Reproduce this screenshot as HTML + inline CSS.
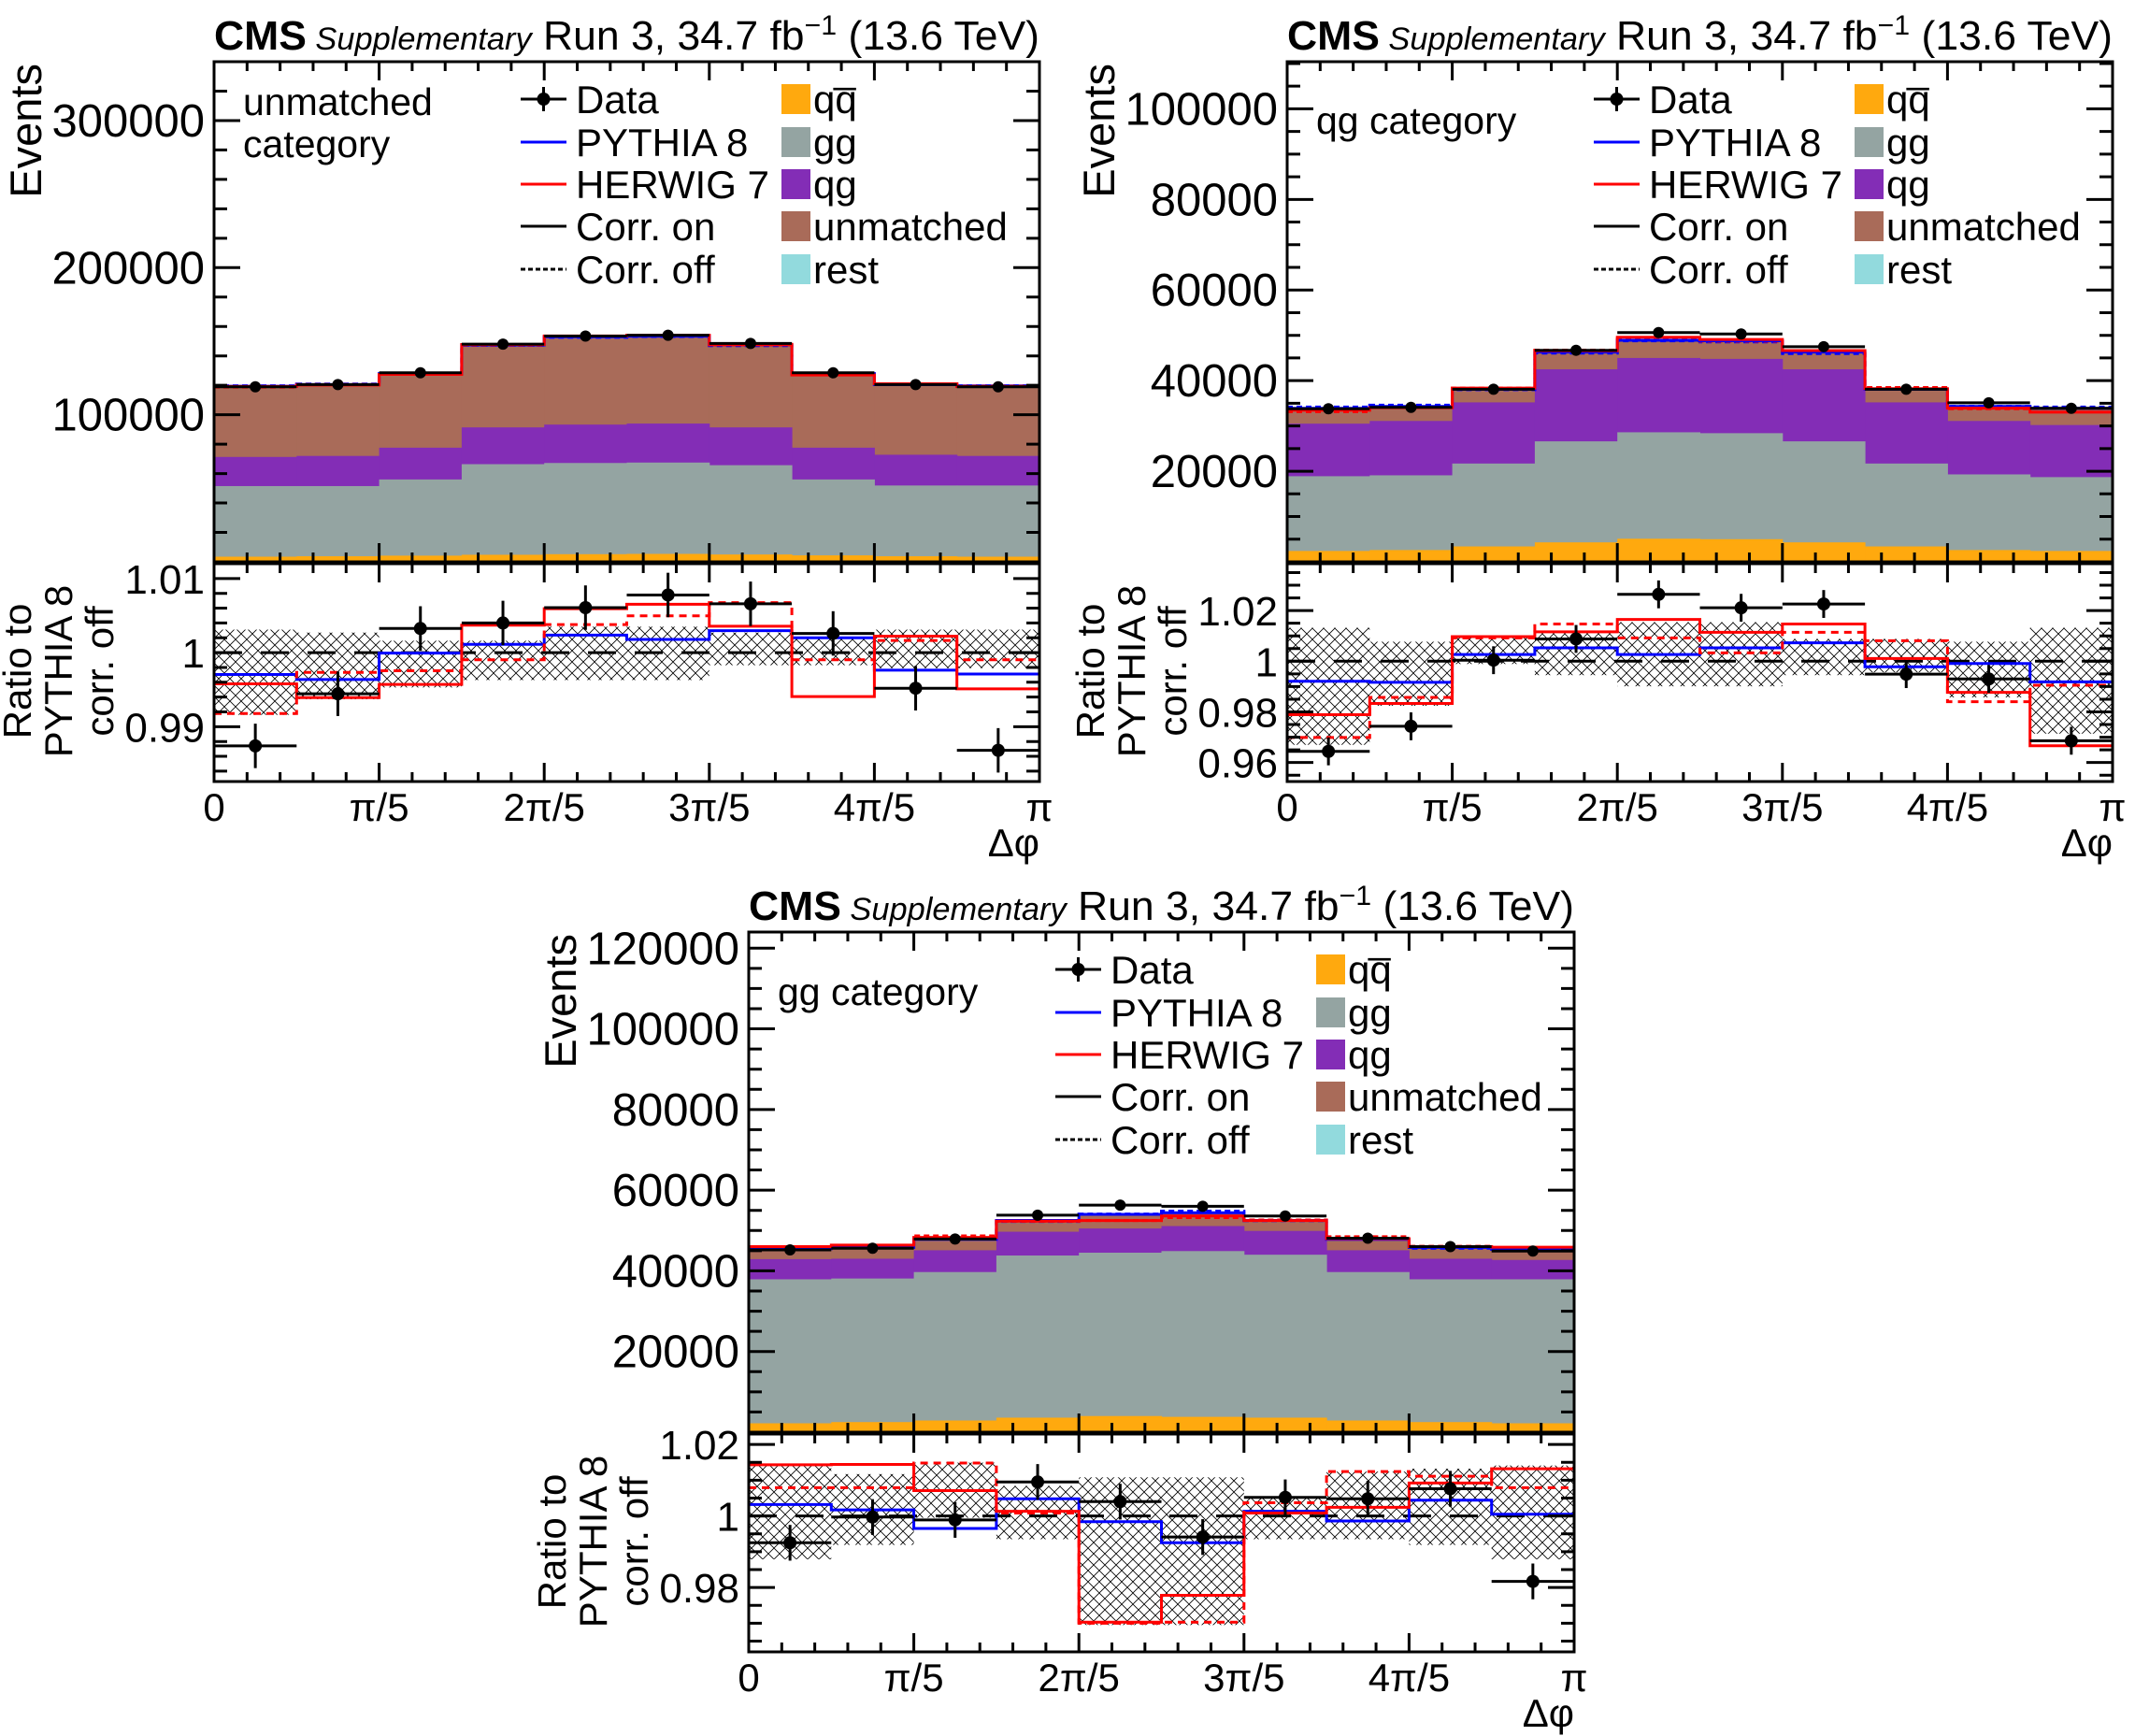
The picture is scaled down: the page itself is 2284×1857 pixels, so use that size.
<!DOCTYPE html>
<html><head><meta charset="utf-8"><style>
html,body{margin:0;padding:0;background:#fff;}
svg{display:block;font-family:"Liberation Sans",Arial,sans-serif;}
</style></head><body>
<svg id="fig" width="2284" height="1857" viewBox="0 0 2284 1857">
<defs>
<pattern id="hatch" width="12" height="12" patternUnits="userSpaceOnUse">
<path d="M0,0 L12,12 M12,0 L0,12" stroke="#000" stroke-width="0.8" fill="none"/>
</pattern>
</defs>
</svg>
<script>
// ---- shared ----
const binEdgesLabels = ["0","\u03c0/5","2\u03c0/5","3\u03c0/5","4\u03c0/5","\u03c0"];
const nBins = 10;
const stackNames = ["qqbar","gg","qg","unmatched"];
const stackColors = ["#ffa90e","#94a4a2","#832db6","#a96b59"];

// ---- panel 1: unmatched category (cumulative stack tops, thousands) ----
const p1_qqbar = [3.5,3.8,4.2,4.8,5.2,5.4,5.0,4.4,3.8,3.5];
const p1_gg    = [51.5,51.5,56,66.4,67.2,67.5,65.7,56,51.9,51.9];
const p1_qg    = [71.3,72,77.6,91.4,93.3,94,91.4,77.6,72.8,72];
const p1_unm   = [119.4,120.5,128,147.4,153,153.4,147.4,128,120.5,119.4];
const p1_data  = [119,120.5,128.5,148,153.5,154,148.5,128.5,120.5,119];
const p1_rPyOn = [0.99704,0.99637,0.99993,1.00111,1.00237,1.00178,1.00296,1.002,0.99763,0.99711];
const p1_rHwOn = [0.99578,0.99393,0.9957,1.0037,1.00593,1.00652,1.00356,0.99407,1.00222,0.99511];
const p1_rHwOff= [0.99178,0.99733,0.99756,0.99904,1.00378,1.00496,1.00674,0.99904,1.00163,0.99904];
const p1_rData = [0.98741,0.99444,1.00326,1.004,1.00607,1.00778,1.00659,1.00259,0.99519,0.98681];
const p1_rErr  = [0.003,0.003,0.003,0.003,0.003,0.003,0.003,0.003,0.003,0.003];
const p1_bandHi= [1.0031,1.0027,1.0016,1.0016,1.0035,1.0035,1.0027,1.002,1.0031,1.0031];
const p1_bandLo= [0.9916,0.9937,0.9953,0.9963,0.9963,0.9963,0.9983,0.9983,0.9979,0.9979];

// ---- panel 2: qg category ----
const p2_qqbar = [2.4,2.6,3.4,4.3,5.1,5.0,4.3,3.4,2.6,2.4];
const p2_gg    = [18.9,19.1,21.7,26.6,28.6,28.4,26.6,21.7,19.3,18.7];
const p2_qg    = [30.5,31.1,35.2,42.5,45,44.8,42.5,35.2,31.1,30.2];
const p2_unm   = [33.9,34.3,38.1,46.3,48.9,48.8,46.3,38.1,34.3,33.9];
const p2_data  = [33.8,34.1,38.1,46.7,50.6,50.3,47.5,38.1,35.1,33.9];
const p2_rPyOn = [0.99209,0.99165,1.00264,1.00527,1.00264,1.00527,1.00725,0.9978,0.99912,0.99187];
const p2_rHwOn = [0.9789,0.9833,1.0097,1.0116,1.0165,1.0114,1.0147,1.0011,0.9877,0.9666];
const p2_rHwOff= [0.9699,0.9857,1.0092,1.0147,1.0092,1.0033,1.0114,1.0081,0.984,0.9905];
const p2_rData = [0.9644,0.9743,1.0004,1.0088,1.0264,1.0211,1.0226,0.9949,0.993,0.9686];
const p2_rErr  = [0.0055,0.0055,0.0055,0.0055,0.0055,0.0055,0.0055,0.0055,0.0055,0.0055];
const p2_bandHi= [1.0132,1.0077,1.0099,1.011,1.0154,1.0154,1.0088,1.0088,1.0077,1.0132];
const p2_bandLo= [0.967,0.9824,0.9989,0.9945,0.9901,0.9901,0.9945,0.9956,0.9857,0.9714];

// ---- panel 3: gg category ----
const p3_qqbar = [2.2,2.5,2.9,3.6,4.0,3.8,3.6,2.9,2.5,2.2];
const p3_gg    = [37.9,38.1,39.7,43.8,44.5,44.9,44,39.7,37.9,37.9];
const p3_qg    = [42.9,43,45.1,49.7,50.5,51.1,49.9,45.1,43,42.7];
const p3_unm   = [45.5,45.8,47.8,52.5,54,54.4,52.5,47.8,45.8,45.3];
const p3_data  = [45.2,45.6,47.9,53.8,56.3,56,53.6,48.1,46,44.9];
const p3_rPyOn = [1.0032,1.0017,0.9965,1.0048,0.9984,0.9925,1.0013,0.9986,1.0044,1.0005];
const p3_rHwOn = [1.0143,1.0144,1.0071,1.0013,0.9703,0.9778,1.0008,1.0024,1.0092,1.0132];
const p3_rHwOff= [1.0079,1.0079,1.0148,1.0008,0.97,0.9703,1.0037,1.0124,1.0111,1.0079];
const p3_rData = [0.9925,0.9997,0.9989,1.0095,1.004,0.9941,1.0052,1.0048,1.0076,0.9817];
const p3_rErr  = [0.005,0.005,0.005,0.005,0.005,0.005,0.005,0.005,0.005,0.005];
const p3_bandHi= [1.0141,1.0117,1.0149,1.0084,1.0108,1.0108,1.0052,1.0124,1.0132,1.0141];
const p3_bandLo= [0.9879,0.9919,0.9995,0.9935,0.9695,0.9695,0.9935,0.9935,0.9919,0.9879];

const NS = "http://www.w3.org/2000/svg";
const svg = document.getElementById("fig");
function mk(tag, attrs, parent){
  const e = document.createElementNS(NS, tag);
  for (const k in attrs) e.setAttribute(k, attrs[k]);
  (parent||svg).appendChild(e);
  return e;
}
function stepPath(vals, xf, yf){
  let d = "";
  for (let i=0;i<vals.length;i++){
    const x0=xf(i), x1=xf(i+1), y=yf(vals[i]);
    d += (i===0?"M":"L")+x0+","+y+" L"+x1+","+y+" ";
  }
  return d;
}

function drawPanel(cfg){
  const W=883, L=cfg.x, T=cfg.y, UB=T+535, RT=T+537, RB=T+770;
  const g = mk("g",{});
  
  
  const xf = i => L + i*W/nBins;
  const yU = v => UB - v/cfg.ymax*(UB-T);
  const yR = v => RB - (v-cfg.rmin)/(cfg.rmax-cfg.rmin)*(RB-RT);

  const t = mk("text",{x:L, y:T-13, "font-size":44, textLength:W, lengthAdjust:"spacingAndGlyphs"}, g);
  
  
  t.innerHTML = '<tspan font-weight="bold">CMS</tspan><tspan font-style="italic" font-size="34"> Supplementary</tspan><tspan> Run 3, 34.7 fb</tspan><tspan font-size="30" dy="-16">\u22121</tspan><tspan dy="16"> (13.6 TeV)</tspan>';

  const layers=[cfg.qqbar,cfg.gg,cfg.qg,cfg.unm];
  for (let s=layers.length-1;s>=0;s--){
    for (let i=0;i<nBins;i++){
      const r = mk("rect",{x:xf(i), y:yU(layers[s][i]), width:W/nBins+0.5, height:UB-yU(layers[s][i]), fill:stackColors[s]}, g);
      
      
    }
  }
  const pyOn = cfg.unm;
  const pyOff = pyOn.map((v,i)=>v/cfg.rPyOn[i]);
  const hwOn = pyOff.map((v,i)=>v*cfg.rHwOn[i]);
  const hwOff = pyOff.map((v,i)=>v*cfg.rHwOff[i]);
  const lines=[[pyOff,"#0000ff","6,4","pythia-corr-off"],[hwOff,"#ff0000","6,4","herwig-corr-off"],[pyOn,"#0000ff","","pythia-corr-on"],[hwOn,"#ff0000","","herwig-corr-on"]];
  for (const [vals,col,da,nm] of lines){
    const p = mk("path",{d:stepPath(vals,xf,yU), fill:"none", stroke:col, "stroke-width":3, "stroke-dasharray":da}, g);
    
    
  }
  for (let i=0;i<nBins;i++){
    const cx=(xf(i)+xf(i+1))/2, cy=yU(cfg.data[i]);
    const h = mk("line",{x1:xf(i),x2:xf(i+1),y1:cy,y2:cy,stroke:"#000","stroke-width":3}, g);
    
    
    const c = mk("circle",{cx:cx,cy:cy,r:6,fill:"#000"}, g);
    
    
  }

  for (let i=0;i<nBins;i++){
    const r = mk("rect",{x:xf(i), y:yR(cfg.bandHi[i]), width:W/nBins, height:yR(cfg.bandLo[i])-yR(cfg.bandHi[i]), fill:"url(#hatch)"}, g);
    
    
  }
  const one = mk("line",{x1:L,x2:L+W,y1:yR(1),y2:yR(1),stroke:"#000","stroke-width":3,"stroke-dasharray":"30,20"}, g);
  
  
  const rl=[[cfg.rPyOn,"#0000ff","","ratio-pythia-on"],[cfg.rHwOff,"#ff0000","8,6","ratio-herwig-off"],[cfg.rHwOn,"#ff0000","","ratio-herwig-on"]];
  for (const [vals,col,da,nm] of rl){
    const p = mk("path",{d:stepPath(vals,xf,yR), fill:"none", stroke:col, "stroke-width":3, "stroke-dasharray":da}, g);
    
    
  }
  for (let i=0;i<nBins;i++){
    const cx=(xf(i)+xf(i+1))/2, cy=yR(cfg.rData[i]);
    const h = mk("line",{x1:xf(i),x2:xf(i+1),y1:cy,y2:cy,stroke:"#000","stroke-width":3}, g);
    
    
    const v = mk("line",{x1:cx,x2:cx,y1:yR(cfg.rData[i]+cfg.rErr[i]),y2:yR(cfg.rData[i]-cfg.rErr[i]),stroke:"#000","stroke-width":3}, g);
    
    
    const c = mk("circle",{cx:cx,cy:cy,r:7,fill:"#000"}, g);
    
    
  }

  const f1 = mk("rect",{x:L,y:T,width:W,height:UB-T,fill:"none",stroke:"#000","stroke-width":3}, g);
  
  
  const f2 = mk("rect",{x:L,y:RT,width:W,height:RB-RT,fill:"none",stroke:"#000","stroke-width":3}, g);
  
  

  let d="";
  for (let k=0;k<=25;k++){
    const x=L+k*W/25, len=(k%5===0)?20:10;
    d+=`M${x},${T}v${len} M${x},${UB}v${-len} M${x},${RT}v${len} M${x},${RB}v${-len} `;
  }
  for (let v=0; v<=cfg.ymax+1e-9; v+=cfg.yminor){
    const y=yU(v), maj=Math.abs(v/cfg.ymajor-Math.round(v/cfg.ymajor))<1e-6, len=maj?28:14;
    d+=`M${L},${y}h${len} M${L+W},${y}h${-len} `;
    if (maj && v>0){
      const tl = mk("text",{x:L-10,y:y+17,"font-size":49,"text-anchor":"end"}, g);
      
      
      tl.textContent = String(Math.round(v*1000));
    }
  }
  const rs = Math.ceil((cfg.rmin-1e-9)/cfg.rminor);
  for (let k=rs; k*cfg.rminor<=cfg.rmax+1e-9; k++){
    const v=k*cfg.rminor, y=yR(v), maj=Math.abs(v/cfg.rmajor-Math.round(v/cfg.rmajor))<1e-6, len=maj?28:14;
    d+=`M${L},${y}h${len} M${L+W},${y}h${-len} `;
    if (maj){
      const tl = mk("text",{x:L-10,y:y+16,"font-size":44,"text-anchor":"end"}, g);
      
      
      tl.textContent = (Math.abs(v-1)<1e-9)?"1":parseFloat(v.toFixed(3)).toString();
    }
  }
  const tp = mk("path",{d:d,stroke:"#000","stroke-width":3,fill:"none"}, g);
  
  

  for (let k=0;k<binEdgesLabels.length;k++){
    const tl = mk("text",{x:L+k*W/5,y:RB+42,"font-size":42,"text-anchor":"middle"}, g);
    
    
    tl.textContent = binEdgesLabels[k];
  }
  const xt = mk("text",{x:L+W,y:RB+80,"font-size":42,"text-anchor":"end"}, g);
  
  
  xt.textContent = "\u0394\u03c6";

  const yt = mk("text",{x:0,y:0,"font-size":47,"text-anchor":"end",transform:`translate(${L-185},${T+2}) rotate(-90)`}, g);
  
  
  yt.textContent = "Events";
  const rlines=["Ratio to","PYTHIA 8","corr. off"];
  for (let k=0;k<3;k++){
    const rt = mk("text",{x:0,y:0,"font-size":42,"text-anchor":"middle",transform:`translate(${L-196+k*44},${RT+115}) rotate(-90)`}, g);
    
    
    rt.textContent = rlines[k];
  }

  for (let k=0;k<cfg.cat.length;k++){
    const ct = mk("text",{x:L+31,y:T+cfg.catY+k*45,"font-size":41}, g);
    
    
    ct.textContent = cfg.cat[k];
  }

  const rows=[40,86,131,176,222];
  const lx0=L+328, lx1=L+377, ltx=L+387;
  const leg=[["Data","data"],["PYTHIA 8","#0000ff"],["HERWIG 7","#ff0000"],["Corr. on","#000"],["Corr. off","dash"]];
  for (let k=0;k<5;k++){
    const y=T+rows[k];
    if (leg[k][1]==="data"){
      const a=mk("line",{x1:lx0,x2:lx1,y1:y,y2:y,stroke:"#000","stroke-width":3},g);
      
      
      const b=mk("line",{x1:(lx0+lx1)/2,x2:(lx0+lx1)/2,y1:y-13,y2:y+13,stroke:"#000","stroke-width":3},g);
      
      
      const c=mk("circle",{cx:(lx0+lx1)/2,cy:y,r:7,fill:"#000"},g);
      
      
    } else {
      const col = leg[k][1]==="dash"?"#000":leg[k][1];
      const a=mk("line",{x1:lx0,x2:lx1,y1:y,y2:y,stroke:col,"stroke-width":3,"stroke-dasharray":leg[k][1]==="dash"?"5,3":""},g);
      
      
    }
    const tx=mk("text",{x:ltx,y:y+15,"font-size":42},g);
    
    
    tx.textContent = leg[k][0];
  }
  const boxes=[["#ffa90e","q\u0071\u0305"],["#94a4a2","gg"],["#832db6","qg"],["#a96b59","unmatched"],["#92dadd","rest"]];
  for (let k=0;k<5;k++){
    const y=T+rows[k];
    const r=mk("rect",{x:L+607,y:y-16,width:31,height:32,fill:boxes[k][0]},g);
    
    
    const tx=mk("text",{x:L+641,y:y+15,"font-size":42},g);
    
    
    tx.textContent = boxes[k][1];
  }
}

drawPanel({name:"panel-unmatched",x:229,y:66,ymax:340,ymajor:100,yminor:20,rmin:0.9826,rmax:1.012,rmajor:0.01,rminor:0.002,
  qqbar:p1_qqbar,gg:p1_gg,qg:p1_qg,unm:p1_unm,data:p1_data,rPyOn:p1_rPyOn,rHwOn:p1_rHwOn,rHwOff:p1_rHwOff,rData:p1_rData,rErr:p1_rErr,bandHi:p1_bandHi,bandLo:p1_bandLo,
  cat:["unmatched","category"],catY:57});
drawPanel({name:"panel-qg",x:1377,y:66,ymax:110.4,ymajor:20,yminor:5,rmin:0.9525,rmax:1.0385,rmajor:0.02,rminor:0.005,
  qqbar:p2_qqbar,gg:p2_gg,qg:p2_qg,unm:p2_unm,data:p2_data,rPyOn:p2_rPyOn,rHwOn:p2_rHwOn,rHwOff:p2_rHwOff,rData:p2_rData,rErr:p2_rErr,bandHi:p2_bandHi,bandLo:p2_bandLo,
  cat:["qg category"],catY:77});
drawPanel({name:"panel-gg",x:801,y:997,ymax:124,ymajor:20,yminor:5,rmin:0.962,rmax:1.0229,rmajor:0.02,rminor:0.005,
  qqbar:p3_qqbar,gg:p3_gg,qg:p3_qg,unm:p3_unm,data:p3_data,rPyOn:p3_rPyOn,rHwOn:p3_rHwOn,rHwOff:p3_rHwOff,rData:p3_rData,rErr:p3_rErr,bandHi:p3_bandHi,bandLo:p3_bandLo,
  cat:["gg category"],catY:78});
</script>
</body></html>
